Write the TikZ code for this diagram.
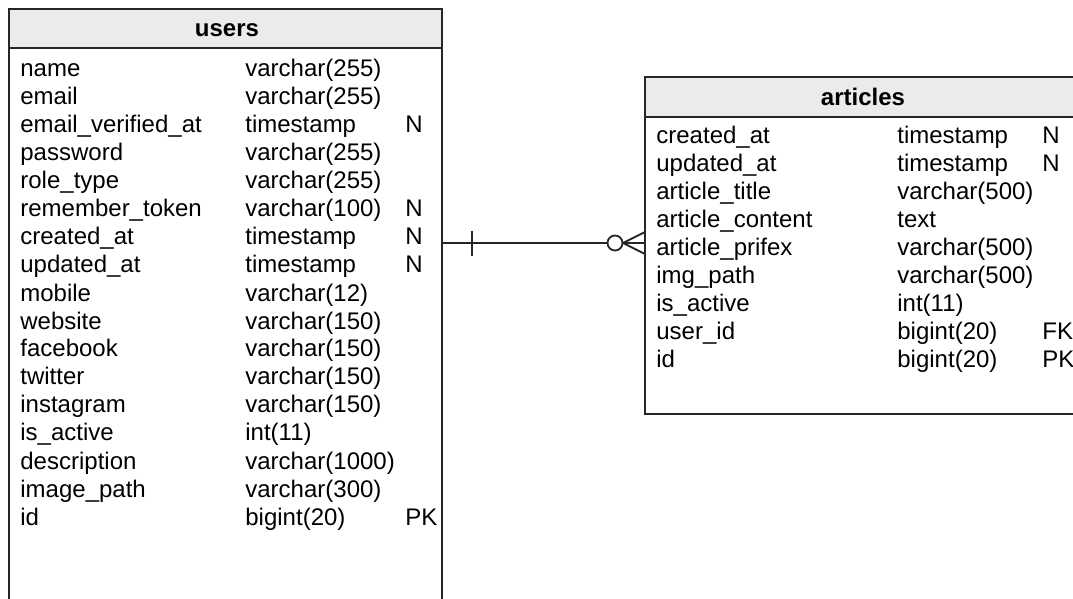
\documentclass[tikz,border=0pt]{standalone}
\usepackage{fontspec}
\setmainfont{Liberation Sans}
\usetikzlibrary{calc}
\begin{document}
\begin{tikzpicture}[x=0.5pt,y=-0.5pt,
  cell/.style={anchor=base west, inner sep=0pt, font=\fontsize{12}{14}\selectfont},
  hdr/.style={anchor=base, inner sep=0pt, font=\fontsize{12}{14}\selectfont\bfseries},
  tbox/.style={draw=black!85, line width=1pt},
  hfill/.style={fill=black!8},
  rel/.style={draw=black!85, line width=0.9pt}]
\useasboundingbox (0,0) rectangle (1073,599);
\begin{scope}
\clip (0,0) rectangle (1073,599);
% users table
\path[tbox, fill=white] (9,9) rectangle (442,640);
\path[tbox, hfill] (9,9) rectangle (442,48);
\node[hdr] (usershead) at (227,37) {users};
\foreach \n/\t/\f [count=\i from 0] in {
  name/varchar(255)/,
  email/varchar(255)/,
  email\_verified\_at/timestamp/N,
  password/varchar(255)/,
  role\_type/varchar(255)/,
  remember\_token/varchar(100)/N,
  created\_at/timestamp/N,
  updated\_at/timestamp/N,
  mobile/varchar(12)/,
  website/varchar(150)/,
  facebook/varchar(150)/,
  twitter/varchar(150)/,
  instagram/varchar(150)/,
  is\_active/int(11)/,
  description/varchar(1000)/,
  image\_path/varchar(300)/,
  id/bigint(20)/PK} {
  \node[cell] (un\i) at (20,77+28*\i) {\n};
  \node[cell] (ut\i) at (245,77+28*\i) {\t};
  \node[cell] (uf\i) at (405,77+28*\i) {\f};
}
% articles table
\path[tbox, fill=white] (645,77) rectangle (1081,414);
\path[tbox, hfill] (645,77) rectangle (1081,117);
\node[hdr] (articleshead) at (863,106) {articles};
\foreach \n/\t/\f [count=\i from 0] in {
  created\_at/timestamp/N,
  updated\_at/timestamp/N,
  article\_title/varchar(500)/,
  article\_content/text/,
  article\_prifex/varchar(500)/,
  img\_path/varchar(500)/,
  is\_active/int(11)/,
  user\_id/bigint(20)/FK,
  id/bigint(20)/PK} {
  \node[cell] (an\i) at (656,144+28*\i) {\n};
  \node[cell] (at\i) at (897,144+28*\i) {\t};
  \node[cell] (af\i) at (1042,144+28*\i) {\f};
}
% relationship
\coordinate (uside) at (442,243);
\coordinate (aside) at (645,243);
\coordinate (ring) at (615,243);
\coordinate (foot) at (623,243);
\coordinate (tick) at (472,243);
\draw[rel] (uside) -- ($(ring)+(-7.5,0)$);
\draw[rel] (foot) -- (aside);
\draw[rel] (foot) -- ($(aside)+(0,-11)$);
\draw[rel] (foot) -- ($(aside)+(0,11)$);
\draw[rel, fill=white] (ring) circle[radius=7.5];
\draw[rel] ($(tick)+(0,-12)$) -- ($(tick)+(0,13)$);
\end{scope}
\end{tikzpicture}
\end{document}
